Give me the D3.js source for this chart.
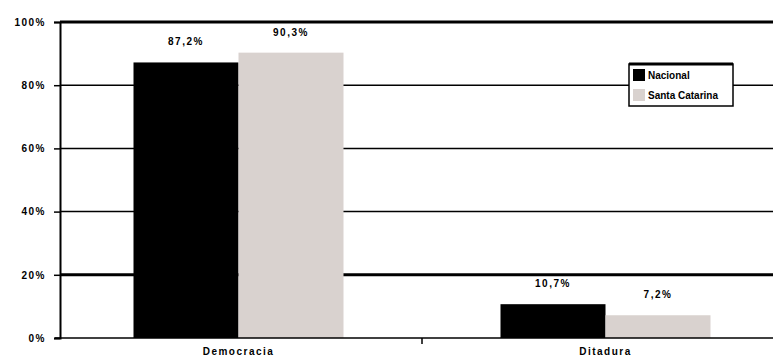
<!DOCTYPE html>
<html><head><meta charset="utf-8">
<script src="https://cdn.jsdelivr.net/npm/d3@7"></script>
<style>body{margin:0;background:#fff}svg{display:block}text{font-family:"Liberation Sans",Arial,sans-serif;font-weight:bold}</style>
</head><body><svg id="c" width="773" height="363"></svg>
<script>
const categories = ["Democracia", "Ditadura"];
const seriesNames = ["Nacional", "Santa Catarina"];
const nacional = [87.2, 10.7];
const santaCatarina = [90.3, 7.2];
const valueLabels = [["87,2%", "10,7%"], ["90,3%", "7,2%"]];
const yTicks = [0, 20, 40, 60, 80, 100];
const colors = ["#000000", "#d9d2cf"];

const svg = d3.select("#c");
const x0 = d3.scaleBand().domain(categories).range([55, 789]).paddingInner(0).paddingOuter(0);
const y = d3.scaleLinear().domain([0, 100]).range([338, 22]);
const series = [nacional, santaCatarina];
const bw = 105;

// gridlines
svg.append("g").selectAll("line").data(yTicks.filter(d => d > 0)).join("line")
  .attr("x1", 60).attr("x2", 773).attr("y1", d => y(d)).attr("y2", d => y(d))
  .attr("stroke", "#000").attr("stroke-width", d => (d === 20 || d === 100) ? 3 : 1.5);

// y axis
const ya = svg.append("g").attr("transform", "translate(60,0)")
  .call(d3.axisLeft(y).tickValues(yTicks).tickFormat(d => d + "%").tickSize(6).tickPadding(8));
ya.select(".domain").attr("stroke-width", 2);
ya.selectAll(".tick line").attr("stroke-width", 1.5);
ya.selectAll("text").attr("font-size", 10).attr("letter-spacing", 1.5).attr("fill", "#000");

// bars
series.forEach((s, i) => {
  svg.append("g").selectAll("rect").data(s).join("rect")
    .attr("x", (d, j) => x0(categories[j]) + x0.bandwidth() / 2 - bw + i * bw)
    .attr("width", bw)
    .attr("y", d => y(d)).attr("height", d => y(0) - y(d))
    .attr("fill", colors[i]);
  svg.append("g").selectAll("text").data(s).join("text")
    .attr("x", (d, j) => x0(categories[j]) + x0.bandwidth() / 2 - bw + i * bw + bw / 2)
    .attr("y", d => y(d) - 17)
    .attr("text-anchor", "middle").attr("font-size", 10).attr("letter-spacing", 1.5)
    .text((d, j) => valueLabels[i][j]);
});

// x axis
const xa = svg.append("g").attr("transform", "translate(0,338)")
  .call(d3.axisBottom(x0).tickSize(0).tickPadding(10));
xa.select(".domain").attr("stroke-width", 1.5).attr("d", "M55,0H789");
xa.selectAll("text").attr("font-size", 10).attr("letter-spacing", 1.5).attr("fill", "#000");
svg.append("line").attr("x1", x0("Ditadura")).attr("x2", x0("Ditadura"))
  .attr("y1", 338).attr("y2", 344).attr("stroke", "#000").attr("stroke-width", 1.5);

// legend
const lg = svg.append("g").attr("transform", "translate(629,64)");
lg.append("rect").attr("width", 104).attr("height", 42).attr("fill", "#fff")
  .attr("stroke", "#000").attr("stroke-width", 1.5);
lg.append("line").attr("x1", 0).attr("x2", 104).attr("y1", 0).attr("y2", 0).attr("stroke", "#000").attr("stroke-width", 3);
seriesNames.forEach((n, i) => {
  lg.append("rect").attr("x", 4).attr("y", 5 + i * 20).attr("width", 12).attr("height", 12).attr("fill", colors[i]);
  lg.append("text").attr("x", 19).attr("y", 15 + i * 20).attr("font-size", 10).text(n);
});
</script></body></html>
